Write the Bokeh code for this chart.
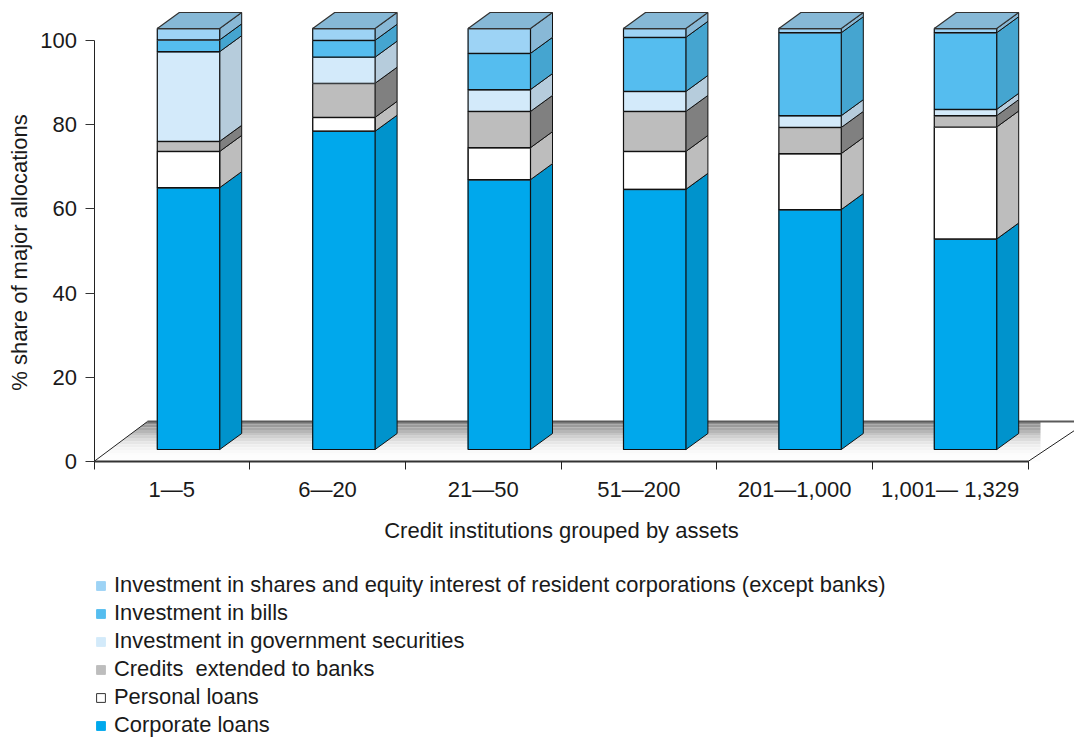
from math import pi
from bokeh.plotting import figure
from bokeh.models import FixedTicker, Label, Legend, LegendItem, Range1d, ColumnDataSource
from bokeh.embed import file_html
from bokeh.resources import INLINE

# ---------- data ----------
categories = ["1—5", "6—20", "21—50", "51—200", "201—1,000", "1,001— 1,329"]
y_ticks = [0, 20, 40, 60, 80, 100]
corporate = [62.2, 75.6, 64.1, 61.8, 57.0, 50.0]
personal = [8.6, 3.3, 7.6, 9.0, 13.3, 26.6]
credits_banks = [2.4, 8.1, 8.6, 9.5, 6.2, 2.7]
government = [21.3, 6.2, 5.2, 4.75, 2.8, 1.5]
bills = [2.8, 4.0, 8.6, 12.85, 19.7, 18.2]
shares = [2.7, 2.8, 5.9, 2.1, 1.0, 1.0]
series_names = [
    "Corporate loans",
    "Personal loans",
    "Credits  extended to banks",
    "Investment in government securities",
    "Investment in bills",
    "Investment in shares and equity interest of resident corporations (except banks)",
]
series = [corporate, personal, credits_banks, government, bills, shares]
front_colors = ["#00A8EC", "#FFFFFF", "#BDBDBD", "#D3EAFA", "#55BDEF", "#9DD3F5"]
side_colors = ["#0093CC", "#BDBDBD", "#808080", "#B6CCDC", "#45A5D0", "#88B8D6"]
top_color = "#86B8D6"
floor_shades = ["#8C8C8C", "#9A9A9A", "#A8A8A8", "#B6B6B6", "#C4C4C4", "#D0D0D0",
                "#DCDCDC", "#E6E6E6", "#EEEEEE", "#F4F4F4", "#F9F9F9", "#FCFCFC", "#FDFDFD", "#FDFDFD"]

# ---------- geometry (pixel scales of the frame) ----------
PX_X = 155.67           # pixels per category
PX_Y = 4.21             # pixels per percent
FONT = "Liberation Sans"
FS = "22px"
TXT = "#1A1A1A"
W, H = 1074, 738
ORG_X, ORG_Y = 93.5, 461              # canvas position of the axes' origin

dx, dy = 22.0 / PX_X, 16 / PX_Y       # bar depth
fdx, fdy = 53.5 / PX_X, 40 / PX_Y     # floor depth
base = 12 / PX_Y                      # bar sits this far above the axis
bw = 62.4 / PX_X
x0, step = (188.0 - ORG_X) / PX_X, 155.4 / PX_X
centers = [x0 + i * step for i in range(len(categories))]
x_end = (W - ORG_X) / PX_X
y_end = ORG_Y / PX_Y

p = figure(width=W, height=H, output_backend="svg", toolbar_location=None,
           x_range=Range1d(-ORG_X / PX_X, x_end), y_range=Range1d(-(H - ORG_Y) / PX_Y, y_end),
           min_border=0, outline_line_color=None)
p.grid.visible = False

# ---------- floor ----------
n = len(floor_shades)
xs, ys = [], []
fright = (1040 - ORG_X) / PX_X
for i in range(n):
    yt = fdy * (1 - i / n)
    yb = fdy * (1 - (i + 1) / n)
    xs.append([fdx * yt / fdy, fright, fright, fdx * yb / fdy])
    ys.append([yt, yt, yb, yb])
p.patches(xs, ys, fill_color=floor_shades, line_color=None)
lcolor = "#222222"
p.line([0, fdx], [0, fdy], line_color=lcolor, line_width=1)
p.line([fdx, x_end], [fdy, fdy], line_color="#5A5A5A", line_width=1.8)
rdx = 46 / PX_X; rdy = 30.7 / PX_Y
p.line([6, 6 + rdx], [0, rdy], line_color=lcolor, line_width=1)

# ---------- stacked pseudo-3D bars ----------
ncat = len(categories)
bottoms = [base] * ncat
front_renderers = []
for name, vals, fc, sc in zip(series_names, series, front_colors, side_colors):
    tops = [b + v for b, v in zip(bottoms, vals)]
    sx, sy = [], []
    for c, b, t in zip(centers, bottoms, tops):
        r = c + bw / 2
        sx.append([r, r + dx, r + dx, r])
        sy.append([b, b + dy, t + dy, t])
    p.patches(sx, sy, fill_color=sc, line_color="#111111", line_width=1)
    src = ColumnDataSource(dict(x=centers, top=tops, bottom=bottoms))
    r = p.vbar(x="x", top="top", bottom="bottom", width=bw, source=src,
               fill_color=fc,
               line_color="#333333" if fc == "#FFFFFF" else fc, line_width=1)
    front_renderers.append(r)
    p.vbar(x="x", top="top", bottom="bottom", width=bw, source=src,
           fill_alpha=0, line_color="#111111", line_width=1.2)
    # the heavier grey rule at the top edge of each segment
    p.segment([c - bw / 2 for c in centers], tops, [c + bw / 2 for c in centers], tops,
              line_color="#404040", line_width=1.8)
    bottoms = tops

# top face
tx, ty = [], []
for c, t in zip(centers, bottoms):
    l_, r_ = c - bw / 2, c + bw / 2
    tx.append([l_, r_, r_ + dx, l_ + dx])
    ty.append([t, t, t + dy, t + dy])
p.patches(tx, ty, fill_color=top_color, line_color="#333333", line_width=1.2)

# ---------- axes (fixed at the origin, inside the full-canvas frame) ----------
xa = p.xaxis[0]
xa.fixed_location = 0
xa.bounds = (0, 6)
xa.ticker = FixedTicker(ticks=[i + 0.5 for i in range(ncat)], minor_ticks=list(range(ncat + 1)))
xa.major_label_overrides = {i + 0.5: c for i, c in enumerate(categories)}
xa.major_tick_in = 0
xa.major_tick_out = 0
xa.minor_tick_in = 0
xa.minor_tick_out = 8
xa.minor_tick_line_color = "#222222"
xa.axis_line_color = "#333333"
xa.axis_line_width = 2
xa.major_label_standoff = 7
xa.major_label_text_font = FONT
xa.major_label_text_font_size = FS
xa.major_label_text_color = TXT

ya = p.yaxis[0]
ya.fixed_location = 0
ya.bounds = (0, 100)
ya.ticker = FixedTicker(ticks=y_ticks)
ya.major_tick_in = 0
ya.major_tick_out = 9
ya.minor_tick_in = 0
ya.minor_tick_out = 0
ya.major_tick_line_color = "#333333"
ya.axis_line_color = "#222222"
ya.major_label_standoff = 8
ya.major_label_text_font = FONT
ya.major_label_text_font_size = FS
ya.major_label_text_color = TXT

# ---------- titles ----------
p.add_layout(Label(x=(561 - ORG_X) / PX_X, y=(ORG_Y - 530) / PX_Y, text="Credit institutions grouped by assets",
                   text_align="center", text_baseline="middle", text_font=FONT,
                   text_font_size=FS, text_color=TXT))
p.add_layout(Label(x=(19 - ORG_X) / PX_X, y=(ORG_Y - 252) / PX_Y, text="% share of major allocations",
                   angle=pi / 2, text_align="center", text_baseline="middle", text_font=FONT,
                   text_font_size=FS, text_color=TXT))

# ---------- legend ----------
items = [LegendItem(label=n_, renderers=[r]) for n_, r in zip(series_names[::-1], front_renderers[::-1])]
legend = Legend(items=items, location=(95, 0), orientation="vertical",
                background_fill_alpha=0, border_line_color=None, padding=0, margin=0,
                spacing=2, glyph_width=11, glyph_height=11, label_standoff=8,
                label_text_font=FONT, label_text_font_size="21.9px", label_text_color=TXT,
                label_height=25)
p.add_layout(legend, "center")

open("out.html", "w").write(file_html(p, INLINE))
